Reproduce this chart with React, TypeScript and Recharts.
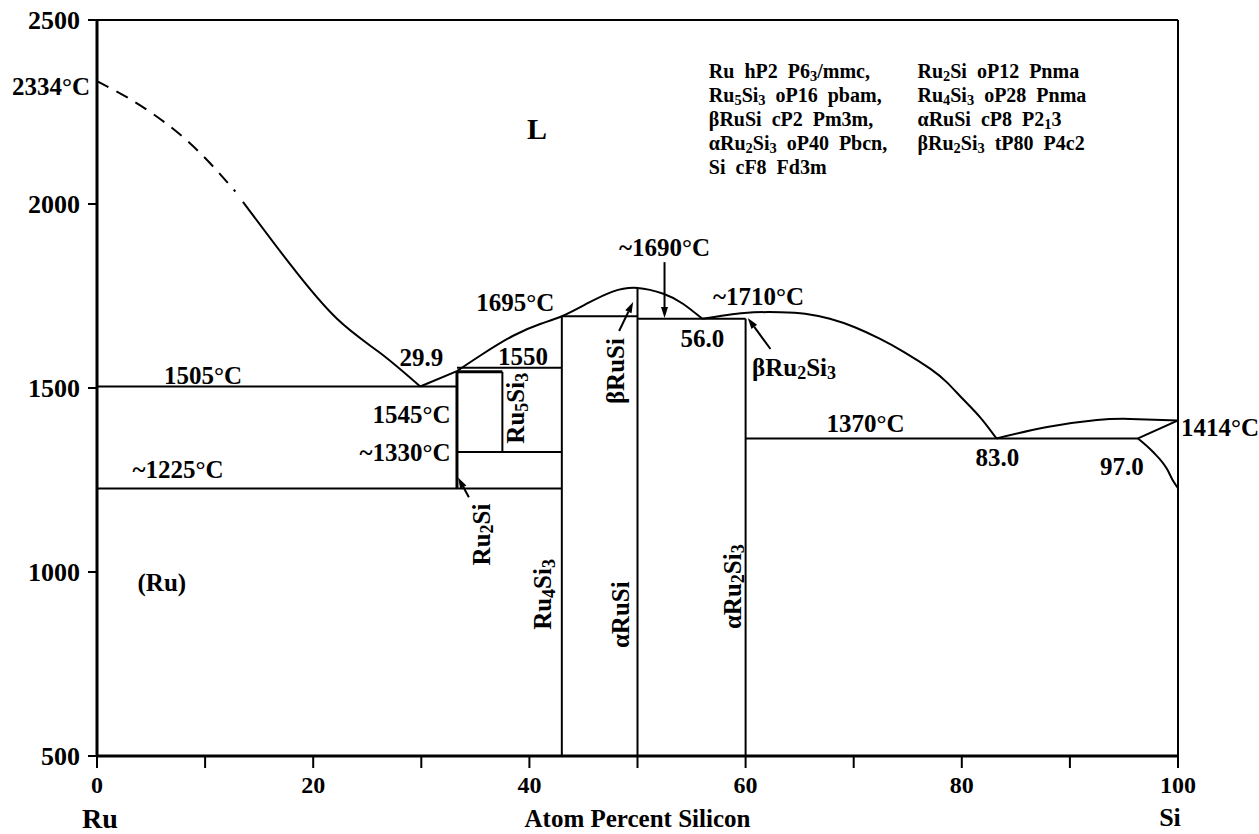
import React from "react";
import { ComposedChart, Line, XAxis, YAxis, ReferenceLine, ReferenceDot } from "recharts";

const FONT = "'Liberation Serif', 'Times New Roman', Times, serif";

// axis ticks
const xTicks = [0, 10, 20, 30, 40, 50, 60, 70, 80, 90, 100];
const xTickLabels = [0, 20, 40, 60, 80, 100];
const yTicks = [500, 1000, 1500, 2000, 2500];

// liquidus on the Ru side (dashed part, then solid part), at.% Si vs °C
const liqRuDashed = [
  { x: 0, t: 2334 },
  { x: 4, t: 2268 },
  { x: 8.6, t: 2165 },
  { x: 12.8, t: 2034 },
];
const liqRuSolid = [
  { x: 13.5, t: 2006 },
  { x: 17.9, t: 1835 },
  { x: 22.2, t: 1688 },
  { x: 26.2, t: 1595 },
  { x: 29.9, t: 1504 },
];
// liquidus from the 29.9 eutectic to the Ru2Si peritectic
const liqMid = [
  { x: 29.9, t: 1504 },
  { x: 33.3, t: 1546 },
];
// liquidus over Ru4Si3 up to the RuSi maximum and down to 56.0
const liqDome = [
  { x: 33.3, t: 1546 },
  { x: 35.4, t: 1587 },
  { x: 38.5, t: 1642 },
  { x: 41, t: 1674 },
  { x: 43, t: 1695 },
  { x: 45.3, t: 1729 },
  { x: 47.7, t: 1762 },
  { x: 50, t: 1772 },
  { x: 52.4, t: 1756 },
  { x: 54.2, t: 1729 },
  { x: 56, t: 1688 },
];
// liquidus from 56.0 over Ru2Si3 down to the 83.0 eutectic
const liqRu2Si3 = [
  { x: 56, t: 1688 },
  { x: 59.9, t: 1704 },
  { x: 63.2, t: 1706 },
  { x: 65.5, t: 1702 },
  { x: 67.8, t: 1688 },
  { x: 70.1, t: 1665 },
  { x: 72.4, t: 1634 },
  { x: 74.7, t: 1597 },
  { x: 77.1, t: 1552 },
  { x: 78.6, t: 1516 },
  { x: 80.1, t: 1470 },
  { x: 81.7, t: 1420 },
  { x: 83.2, t: 1363 },
];
// liquidus on the Si side
const liqSi = [
  { x: 83.2, t: 1363 },
  { x: 87.9, t: 1394 },
  { x: 92.5, t: 1413 },
  { x: 95.6, t: 1416 },
  { x: 100, t: 1412 },
];
// (Si) solidus and solvus
const solidusSi = [
  { x: 96.3, t: 1363 },
  { x: 100, t: 1412 },
];
const solvusSi = [
  { x: 96.3, t: 1363 },
  { x: 97.7, t: 1326 },
  { x: 99, t: 1279 },
  { x: 99.5, t: 1250 },
  { x: 100, t: 1228 },
];

// invariant lines and phase boundaries: [x1, t1, x2, t2]
const thinLines = [
  [0, 1504, 33.3, 1504],
  [0, 1227, 43, 1227],
  [33.3, 1555, 43, 1555],
  [33.3, 1326, 43, 1326],
  [43, 1695, 50, 1695],
  [50, 1688, 60, 1688],
  [60, 1363, 96.3, 1363],
  [43, 1695, 43, 500],
  [50, 1772, 50, 500],
  [60, 1688, 60, 500],
  [37.5, 1544, 37.5, 1326],
];
const thickLines = [
  [33.3, 1546, 33.3, 1227],
  [33.3, 1544, 37.5, 1544],
];

// pointer arrows: [fromX, fromT, toX, toT]
const arrows = [
  [52.5, 1842, 52.5, 1690],
  [48.3, 1655, 49.6, 1734],
  [62.3, 1606, 60.2, 1690],
  [34.4, 1203, 33.4, 1257],
];

// annotations: "_" marks the next character as a subscript
type Lab = { text: string; x: number; t: number; anchor?: "start" | "middle" | "end"; rot?: boolean };
const labels: Lab[] = [
  { text: "L", x: 40.7, t: 2206 },
  { text: "1505°C", x: 9.8, t: 1535 },
  { text: "29.9", x: 30.0, t: 1584 },
  { text: "1550", x: 39.4, t: 1587 },
  { text: "1695°C", x: 38.7, t: 1734 },
  { text: "~1690°C", x: 52.5, t: 1884 },
  { text: "~1710°C", x: 61.2, t: 1751 },
  { text: "56.0", x: 56.0, t: 1636 },
  { text: "βRu_2Si_3", x: 60.6, t: 1557, anchor: "start" },
  { text: "1545°C", x: 32.7, t: 1429, anchor: "end" },
  { text: "~1330°C", x: 32.7, t: 1326, anchor: "end" },
  { text: "~1225°C", x: 7.5, t: 1279 },
  { text: "(Ru)", x: 6.0, t: 974 },
  { text: "1370°C", x: 71.1, t: 1405 },
  { text: "83.0", x: 83.3, t: 1312 },
  { text: "97.0", x: 94.8, t: 1287 },
  { text: "Ru_5Si_3", x: 38.7, t: 1445, rot: true },
  { text: "Ru_2Si", x: 35.5, t: 1102, rot: true },
  { text: "Ru_4Si_3", x: 41.2, t: 939, rot: true },
  { text: "αRuSi", x: 48.4, t: 884, rot: true },
  { text: "αRu_2Si_3", x: 58.7, t: 960, rot: true },
  { text: "βRuSi", x: 47.9, t: 1546, rot: true },
];

// crystal structure notes
const structuresLeft = [
  "Ru  hP2  P6_3/mmc,",
  "Ru_5Si_3  oP16  pbam,",
  "βRuSi  cP2  Pm3m,",
  "αRu_2Si_3  oP40  Pbcn,",
  "Si  cF8  Fd3m",
];
const structuresRight = [
  "Ru_2Si  oP12  Pnma",
  "Ru_4Si_3  oP28  Pnma",
  "αRuSi  cP8  P2_13",
  "βRu_2Si_3  tP80  P4c2",
];

function rich(s: string, size: number) {
  const parts = s.split(/(_.)/).filter(Boolean);
  const shift = size * 0.25;
  let sub = false;
  return parts.map((p, i) => {
    if (p.startsWith("_")) {
      const el = (
        <tspan key={i} fontSize={size * 0.72} dy={sub ? 0 : shift}>
          {p.slice(1)}
        </tspan>
      );
      sub = true;
      return el;
    }
    const el = (
      <tspan key={i} dy={sub ? -shift : 0}>
        {p}
      </tspan>
    );
    sub = false;
    return el;
  });
}

const textShape =
  (text: string, size: number, anchor = "middle", rot = false, dx = 0, dy = 0) =>
  (props: any) => {
    const { cx, cy } = props;
    return (
      <text
        x={cx + dx}
        y={cy + dy}
        textAnchor={anchor}
        dominantBaseline="central"
        fontFamily={FONT}
        fontWeight="bold"
        fontSize={size}
        fill="#000"
        style={{ whiteSpace: "pre" }}
        transform={rot ? `rotate(-90 ${cx} ${cy})` : undefined}
      >
        {rich(text, size)}
      </text>
    );
  };

const structureShape = (lines: string[]) => (props: any) => {
  const { cx, cy } = props;
  return (
    <g>
      {lines.map((l, i) => (
        <text
          key={i}
          x={cx}
          y={cy + i * 24}
          dominantBaseline="central"
          fontFamily={FONT}
          fontWeight="bold"
          fontSize={20}
          fill="#000"
          style={{ whiteSpace: "pre" }}
        >
          {rich(l, 20)}
        </text>
      ))}
    </g>
  );
};

const arrowShape = (props: any) => {
  const { x1, y1, x2, y2 } = props;
  const a = Math.atan2(y2 - y1, x2 - x1);
  const len = 11;
  const w = 3.5;
  const bx = x2 - len * Math.cos(a);
  const by = y2 - len * Math.sin(a);
  const px = -Math.sin(a) * w;
  const py = Math.cos(a) * w;
  return (
    <g>
      <line x1={x1} y1={y1} x2={bx} y2={by} stroke="#000" strokeWidth={2} />
      <polygon points={`${x2},${y2} ${bx + px},${by + py} ${bx - px},${by - py}`} fill="#000" />
    </g>
  );
};

const BottomTick = (props: any) => {
  const { x, y, payload } = props;
  if (!xTickLabels.includes(payload.value)) return null;
  return (
    <text x={x} y={y + 17} textAnchor="middle" dominantBaseline="central" fontFamily={FONT} fontWeight="bold" fontSize={24} fill="#000">
      {payload.value}
    </text>
  );
};

const LeftTick = (props: any) => {
  const { x, y, payload } = props;
  return (
    <text x={x} y={y} textAnchor="end" dominantBaseline="central" fontFamily={FONT} fontWeight="bold" fontSize={26} fill="#000">
      {payload.value}
    </text>
  );
};

const curve = (data: { x: number; t: number }[], key: string, kind: "monotone" | "natural" = "monotone", dashed = false) => (
  <Line
    key={key}
    data={data}
    dataKey="t"
    xAxisId="b"
    yAxisId="l"
    type={kind}
    stroke="#000"
    strokeWidth={2}
    strokeDasharray={dashed ? "13 9" : undefined}
    dot={false}
    activeDot={false}
    isAnimationActive={false}
  />
);

export default function App() {
  return (
    <div style={{ position: "absolute", left: 0, top: 0, width: 1259, height: 834, background: "#fff" }}>
      <ComposedChart width={1259} height={834} margin={{ top: 10, right: 71, bottom: 18, left: 37 }}>
        <XAxis
          xAxisId="b"
          dataKey="x"
          type="number"
          domain={[0, 100]}
          ticks={xTicks}
          allowDataOverflow
          height={60}
          tickSize={12}
          tickMargin={0}
          tick={BottomTick}
          axisLine={{ stroke: "#000", strokeWidth: 3 }}
          tickLine={{ stroke: "#000", strokeWidth: 2 }}
          interval={0}
        />
        <XAxis
          xAxisId="t"
          orientation="top"
          type="number"
          domain={[0, 100]}
          ticks={xTicks}
          height={10}
          tickSize={9}
          tick={false}
          axisLine={{ stroke: "#000", strokeWidth: 2 }}
          tickLine={{ stroke: "#000", strokeWidth: 2 }}
          interval={0}
        />
        <YAxis
          yAxisId="l"
          type="number"
          domain={[500, 2500]}
          ticks={yTicks}
          allowDataOverflow
          width={60}
          tickSize={9}
          tickMargin={8}
          tick={LeftTick}
          axisLine={{ stroke: "#000", strokeWidth: 3 }}
          tickLine={{ stroke: "#000", strokeWidth: 2 }}
          interval={0}
        />
        <YAxis
          yAxisId="r"
          orientation="right"
          type="number"
          domain={[500, 2500]}
          ticks={yTicks}
          width={10}
          tickSize={8}
          tick={false}
          axisLine={{ stroke: "#000", strokeWidth: 2 }}
          tickLine={{ stroke: "#000", strokeWidth: 2 }}
          interval={0}
        />

        {thinLines.map(([x1, t1, x2, t2], i) => (
          <ReferenceLine
            key={`thin${i}`}
            xAxisId="b"
            yAxisId="l"
            segment={[{ x: x1, y: t1 }, { x: x2, y: t2 }]}
            stroke="#000"
            strokeWidth={2}
            ifOverflow="visible"
          />
        ))}
        {thickLines.map(([x1, t1, x2, t2], i) => (
          <ReferenceLine
            key={`thick${i}`}
            xAxisId="b"
            yAxisId="l"
            segment={[{ x: x1, y: t1 }, { x: x2, y: t2 }]}
            stroke="#000"
            strokeWidth={3}
            ifOverflow="visible"
          />
        ))}
        {arrows.map(([x1, t1, x2, t2], i) => (
          <ReferenceLine
            key={`arr${i}`}
            xAxisId="b"
            yAxisId="l"
            segment={[{ x: x1, y: t1 }, { x: x2, y: t2 }]}
            shape={arrowShape}
            ifOverflow="visible"
          />
        ))}

        {curve(liqRuDashed, "liqRuDashed", "natural", true)}
        {curve(liqRuSolid, "liqRuSolid", "natural")}
        {curve(liqMid, "liqMid")}
        {curve(liqDome, "liqDome", "natural")}
        {curve(liqRu2Si3, "liqRu2Si3", "natural")}
        {curve(liqSi, "liqSi", "natural")}
        {curve(solidusSi, "solidusSi")}
        {curve(solvusSi, "solvusSi")}

        {labels.map((l, i) => (
          <ReferenceDot
            key={`lab${i}`}
            xAxisId="b"
            yAxisId="l"
            x={l.x}
            y={l.t}
            ifOverflow="visible"
            shape={textShape(l.text, l.text === "L" ? 30 : 25, l.anchor ?? "middle", !!l.rot)}
          />
        ))}

        {/* melting points at the axes */}
        <ReferenceDot xAxisId="b" yAxisId="l" x={0} y={2334} ifOverflow="visible" shape={textShape("2334°C", 25, "end", false, -7, 5)} />
        <ReferenceDot xAxisId="b" yAxisId="l" x={100} y={1414} ifOverflow="visible" shape={textShape("1414°C", 25, "start", false, 3, 7)} />

        {/* crystal structure table */}
        <ReferenceDot xAxisId="b" yAxisId="l" x={56.6} y={2361} ifOverflow="visible" shape={structureShape(structuresLeft)} />
        <ReferenceDot xAxisId="b" yAxisId="l" x={75.9} y={2361} ifOverflow="visible" shape={structureShape(structuresRight)} />

        {/* axis captions */}
        <ReferenceDot xAxisId="b" yAxisId="l" x={0} y={500} ifOverflow="visible" shape={textShape("Ru", 28, "start", false, -15, 62)} />
        <ReferenceDot xAxisId="b" yAxisId="l" x={50} y={500} ifOverflow="visible" shape={textShape("Atom Percent Silicon", 25, "middle", false, 0, 62)} />
        <ReferenceDot xAxisId="b" yAxisId="l" x={100} y={500} ifOverflow="visible" shape={textShape("Si", 26, "middle", false, -8, 61)} />
      </ComposedChart>
    </div>
  );
}
